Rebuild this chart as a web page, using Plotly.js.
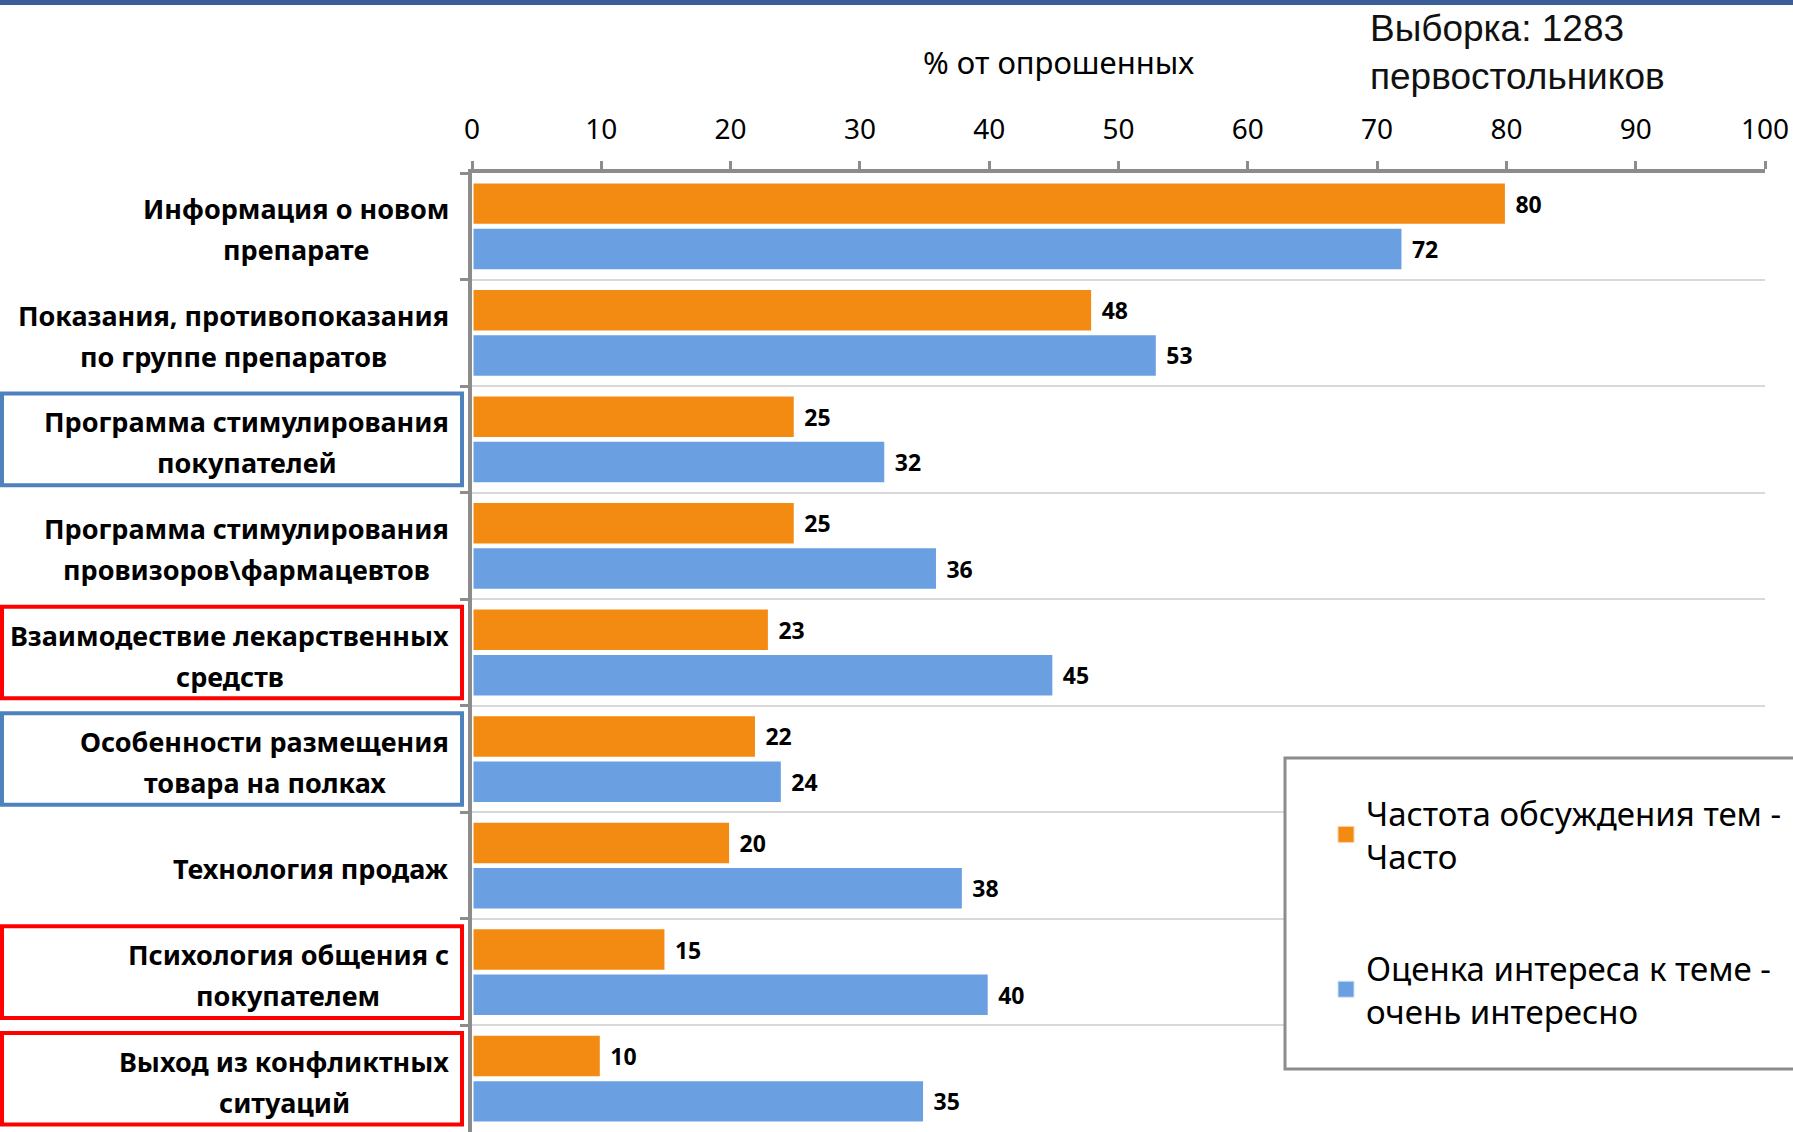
<!DOCTYPE html>
<html><head><meta charset="utf-8">
<script src="https://cdn.plot.ly/plotly-3.0.1.min.js"></script>
<style>html,body{margin:0;padding:0;background:#fff;} #chart{width:1793px;height:1132px;}</style>
</head><body><div id="chart"></div>
<script>
const categories = [
  "Информация о новом<br>препарате",
  "Показания, противопоказания<br>по группе препаратов",
  "Программа стимулирования<br>покупателей",
  "Программа стимулирования<br>провизоров\\фармацевтов",
  "Взаимодествие лекарственных<br>средств",
  "Особенности размещения<br>товара на полках",
  "Технология продаж",
  "Психология общения с<br>покупателем",
  "Выход из конфликтных<br>ситуаций"
];
const freqValues = [80, 48, 25, 25, 23, 22, 20, 15, 10];
const interestValues = [72, 53, 32, 36, 45, 24, 38, 40, 35];
const seriesNames = ["Частота обсуждения тем -<br>Часто", "Оценка интереса к теме -<br>очень интересно"];
const xTickValues = [0, 10, 20, 30, 40, 50, 60, 70, 80, 90, 100];
const axisTitle = "% от опрошенных";
const sampleNote = "Выборка: 1283<br>первостольников";
const highlightColors = {2: "#4F81BD", 4: "#FF0000", 5: "#4F81BD", 7: "#FF0000", 8: "#FF0000"};

const ORANGE = "#F38B13", BLUE = "#6A9FE1", AXIS = "#8C8C8C";
const FONT = "Noto Sans, Open Sans, sans-serif";
const PLOT_L = 472, PLOT_W = 1293, PLOT_T = 173, PLOT_H = 959;
const px2paperX = px => (px - PLOT_L) / PLOT_W;
const px2paperY = py => (PLOT_T + PLOT_H - py) / PLOT_H;

function barTrace(vals, name, color) {
  return {
    type: "bar", orientation: "h", x: vals, y: categories, name: name,
    showlegend: false,
    marker: {color: color, line: {color: "#ffffff", width: 3}},
    texttemplate: "\u00a0%{x}", textposition: "outside", cliponaxis: false,
    constraintext: "none",
    textfont: {family: FONT, size: 23, color: "#000", weight: "bold"},
    hoverinfo: "x+y"
  };
}
function legendTrace(name, color, edge, group) {
  return {
    type: "scatter", mode: "markers", x: [null], y: [null], name: name, legendgroup: group,
    marker: {symbol: "square", size: 16, color: color, line: {color: edge, width: 1}},
    showlegend: true, hoverinfo: "skip"
  };
}

const traces = [
  barTrace(freqValues, seriesNames[0], ORANGE),
  barTrace(interestValues, seriesNames[1], BLUE),
  legendTrace(seriesNames[0], ORANGE, "#F6D3B0", "a"),
  legendTrace(seriesNames[1], BLUE, "#CFE0F5", "b")
];

// category labels: centred lines, right edge of the widest line at a fixed spot
const LABEL_FONT = 27, LABEL_RIGHT = 449, LINE_GAP = 41;
const ctx = document.createElement("canvas").getContext("2d");
ctx.font = "bold " + LABEL_FONT + "px 'Noto Sans'";
const annotations = [];
categories.forEach(c => {
  const lines = c.split("<br>");
  const maxW = Math.max(...lines.map(l => ctx.measureText(l).width));
  const cx = LABEL_RIGHT - maxW / 2;
  lines.forEach((l, j) => {
    annotations.push({
      x: px2paperX(cx), xref: "paper", xanchor: "center",
      y: c, yref: "y", yanchor: "middle",
      yshift: ((lines.length - 1) / 2 - j) * LINE_GAP - 3,
      text: l, showarrow: false,
      font: {family: FONT, size: LABEL_FONT, color: "#000", weight: "bold"}
    });
  });
});
annotations.push({
  x: px2paperX(1058), xref: "paper", xanchor: "center", y: px2paperY(62), yref: "paper", yanchor: "middle",
  text: axisTitle, showarrow: false, font: {family: FONT, size: 31, color: "#000"}
});
annotations.push({
  x: px2paperX(1368), xref: "paper", xanchor: "left", y: px2paperY(6), yref: "paper", yanchor: "top",
  text: sampleNote, align: "left", showarrow: false,
  font: {family: "Liberation Sans, Arial, sans-serif", size: 37, color: "#111"}
});

const shapes = [];
Object.keys(highlightColors).forEach(k => {
  const i = +k;
  shapes.push({type: "rect", xref: "paper", yref: "y", x0: px2paperX(2), x1: px2paperX(462),
    y0: i - 0.43, y1: i + 0.43, line: {color: highlightColors[k], width: 4}, fillcolor: "rgba(0,0,0,0)"});
});
// legend frame
shapes.push({type: "rect", xref: "paper", yref: "paper", x0: px2paperX(1285), x1: 1.05,
  y0: px2paperY(1069), y1: px2paperY(758), line: {color: AXIS, width: 3}, fillcolor: "#ffffff", layer: "above"});
// slide header strip
shapes.push({type: "rect", xref: "paper", yref: "paper", x0: -0.4, x1: 1.05,
  y0: px2paperY(5), y1: 1.2, line: {width: 0}, fillcolor: "#3B5E98"});

const layout = {
  width: 1793, height: 1132,
  margin: {l: PLOT_L, r: 1793 - PLOT_L - PLOT_W, t: PLOT_T, b: 0},
  paper_bgcolor: "#ffffff", plot_bgcolor: "#ffffff",
  barmode: "group", bargap: 0.15, bargroupgap: 0.04,
  showlegend: true,
  legend: {x: px2paperX(1326), xanchor: "left", y: px2paperY(785), yanchor: "top",
    bgcolor: "rgba(0,0,0,0)", borderwidth: 0, traceorder: "grouped", tracegroupgap: 66,
    font: {family: FONT, size: 33, color: "#000"}},
  xaxis: {side: "top", range: [0, 100], tickvals: xTickValues, ticktext: xTickValues.map(String),
    showline: true, linecolor: AXIS, linewidth: 4, ticks: "outside", ticklen: 8, tickwidth: 3, tickcolor: AXIS,
    showgrid: false, zeroline: false, ticklabelstandoff: 11,
    tickfont: {family: FONT, size: 28, color: "#000"}},
  yaxis: {type: "category", categoryorder: "array", categoryarray: categories, autorange: "reversed",
    showticklabels: false, showline: true, linecolor: AXIS, linewidth: 4,
    ticks: "outside", ticklen: 8, tickwidth: 3, tickcolor: AXIS, tickson: "boundaries",
    showgrid: true, gridcolor: "#D9D9D9", gridwidth: 2, zeroline: false},
  annotations: annotations, shapes: shapes
};

Plotly.newPlot("chart", traces, layout, {displayModeBar: false, staticPlot: true});
</script></body></html>
